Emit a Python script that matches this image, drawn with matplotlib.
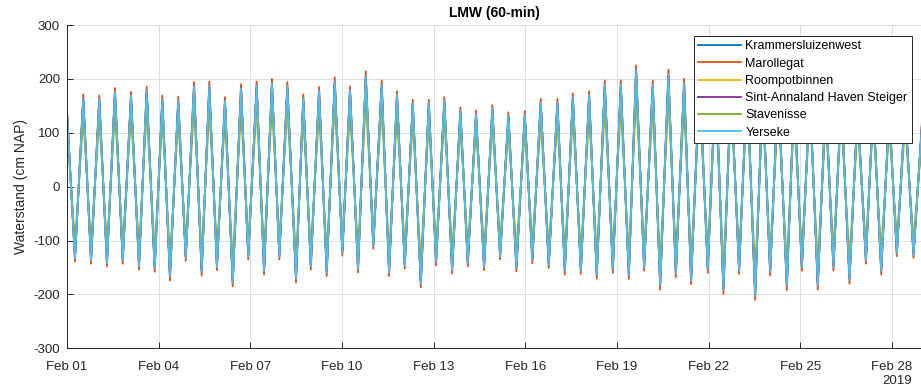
import numpy as np
import pandas as pd
import matplotlib
matplotlib.use("Agg")
import matplotlib.pyplot as plt

plt.rcParams['font.family'] = ['Liberation Sans', 'DejaVu Sans']
plt.rcParams['axes.unicode_minus'] = False

# hoog- en laagwaters, uren na 1 feb 2019 00:00
t_uur = [0, 6.3, 12.8, 18.9, 25.4, 31.4, 37.7, 43.8, 50.3, 56.6,
         62.6, 68.9, 74.9, 80.9, 87.4, 93.3, 99.8, 105.8, 111.8, 117.8,
         124.1, 130.2, 136.7, 142.4, 149.0, 154.8, 161.0, 166.8, 173.1, 179.9,
         185.6, 191.5, 198.0, 204.0, 210.3, 216.3, 222.3, 228.6, 234.7, 240.6,
         247.2, 253.0, 259.2, 265.3, 271.6, 277.9, 284.2, 289.9, 296.4, 302.5,
         309.0, 314.8, 321.3, 327.6, 334.1, 340.2, 346.7, 353.0, 359.6, 365.5,
         372.1, 378.4, 385.2, 391.0, 397.3, 403.6, 410.1, 416.1, 422.4, 428.7,
         435.0, 441.3, 447.0, 453.3, 460.1, 465.9, 472.4, 478.2, 484.7, 490.2,
         496.9, 503.3, 509.5, 515.6, 521.6, 527.9, 534.2, 540.5, 546.4, 552.3,
         558.6, 565.4, 571.1, 577.2, 583.5, 589.7, 595.9, 602.0, 608.1, 614.6,
         621.0, 627.5, 633.2, 639.5, 645.8, 651.8, 658.3, 664.9, 672.0]

krammersluizenwest = [136,-131,161,-134,159,-139,172,-134,165,-145,
                      175,-149,159,-164,157,-130,182,-155,183,-146,
                      156,-174,179,-127,183,-153,188,-127,182,-167,
                      161,-145,174,-156,191,-120,175,-149,201,-108,
                      185,-156,166,-143,151,-176,151,-137,156,-151,
                      138,-139,133,-146,142,-127,130,-148,132,-133,
                      153,-142,153,-153,163,-152,166,-161,185,-150,
                      185,-161,212,-147,185,-180,204,-158,188,-170,
                      193,-150,199,-187,183,-152,193,-197,174,-155,
                      180,-180,165,-147,169,-180,155,-147,160,-169,
                      143,-134,150,-153,136,-121,141,-124,132]

marollegat = [145,-139,171,-143,169,-148,183,-143,176,-154,
              186,-158,169,-174,167,-138,194,-165,195,-155,
              166,-185,190,-135,195,-163,200,-135,194,-178,
              171,-154,185,-166,203,-128,186,-159,214,-115,
              197,-166,177,-152,161,-187,161,-146,166,-161,
              147,-148,141,-155,151,-135,138,-157,140,-142,
              163,-151,163,-163,173,-162,177,-171,197,-160,
              197,-171,225,-156,197,-191,217,-168,200,-181,
              205,-160,212,-199,195,-162,205,-210,185,-165,
              192,-192,175,-156,180,-191,165,-156,170,-180,
              152,-143,160,-163,145,-129,150,-132,140]

roompotbinnen = [104,-100,123,-103,122,-107,132,-103,127,-111,
                 134,-114,122,-125,120,-99,140,-119,140,-112,
                 120,-133,137,-97,140,-117,144,-97,140,-128,
                 123,-111,133,-120,146,-92,134,-114,154,-83,
                 142,-120,127,-109,116,-135,116,-105,120,-116,
                 106,-107,102,-112,109,-97,99,-113,101,-102,
                 117,-109,117,-117,125,-117,127,-123,142,-115,
                 142,-123,162,-112,142,-138,156,-121,144,-130,
                 148,-115,153,-143,140,-117,148,-151,133,-119,
                 138,-138,126,-112,130,-138,119,-112,122,-130,
                 109,-103,115,-117,104,-93,108,-95,101]

sint_annaland = [137,-131,162,-135,160,-140,174,-135,167,-146,
                 177,-150,160,-165,158,-130,184,-156,185,-147,
                 157,-176,180,-128,185,-154,190,-128,184,-169,
                 162,-146,176,-157,193,-121,177,-151,203,-108,
                 187,-157,168,-144,153,-178,153,-138,157,-153,
                 139,-140,133,-147,143,-128,130,-149,132,-134,
                 154,-143,154,-154,164,-154,168,-162,187,-152,
                 187,-162,214,-148,187,-181,206,-159,190,-172,
                 195,-152,202,-189,185,-154,195,-200,176,-156,
                 182,-182,166,-148,171,-181,156,-148,161,-171,
                 144,-135,152,-154,137,-122,142,-125,132]

stavenisse = [125,-120,147,-123,145,-127,157,-123,151,-132,
              160,-136,145,-150,144,-119,167,-142,168,-133,
              143,-159,163,-116,168,-140,172,-116,167,-153,
              147,-132,159,-143,175,-110,160,-137,184,-99,
              169,-143,152,-131,138,-161,138,-126,143,-138,
              126,-127,121,-133,130,-116,119,-135,120,-122,
              140,-130,140,-140,149,-139,152,-147,169,-138,
              169,-147,194,-134,169,-164,187,-144,172,-156,
              176,-138,182,-171,168,-139,176,-181,159,-142,
              165,-165,151,-134,155,-164,142,-134,146,-155,
              131,-123,138,-140,125,-111,129,-114,120]

yerseke = [139,-133,164,-137,162,-142,176,-137,169,-148,
           179,-152,162,-167,160,-132,186,-158,187,-149,
           159,-178,182,-130,187,-156,192,-130,186,-171,
           164,-148,178,-159,195,-123,179,-153,205,-110,
           189,-159,170,-146,155,-180,155,-140,159,-155,
           141,-142,135,-149,145,-130,132,-151,134,-136,
           156,-145,156,-156,166,-156,170,-164,189,-154,
           189,-164,216,-150,189,-183,208,-161,192,-174,
           197,-154,204,-191,187,-156,197,-202,178,-158,
           184,-184,168,-150,173,-183,158,-150,163,-173,
           146,-137,154,-156,139,-124,144,-127,134]

stations = ["Krammersluizenwest", "Marollegat", "Roompotbinnen",
            "Sint-Annaland Haven Steiger", "Stavenisse", "Yerseke"]
reeksen = [krammersluizenwest, marollegat, roompotbinnen,
           sint_annaland, stavenisse, yerseke]
kleuren = ["#0072BD", "#D95319", "#EDB120", "#7E2F8E", "#77AC30", "#4DBEEE"]

tijd = pd.Timestamp("2019-02-01") + pd.to_timedelta(t_uur, unit="h")
xticks = pd.date_range("2019-02-01", "2019-02-28", freq="3D")

fig = plt.figure(figsize=(9.21, 3.87), dpi=100)
ax = fig.add_axes([0.0727, 0.1, 0.9290, 0.8354])

for naam, reeks, kleur in zip(stations, reeksen, kleuren):
    ax.plot(tijd, reeks, color=kleur, lw=1.3, label=naam)

ax.set_xlim(pd.Timestamp("2019-02-01"), pd.Timestamp("2019-03-01"))
ax.set_ylim(-300, 300)
ax.set_yticks(np.arange(-300, 301, 100))
ax.set_xticks(xticks)
ax.set_xticklabels([d.strftime("%b %d") for d in xticks])

ax.grid(True, color="#dedede", lw=0.7)
ax.set_axisbelow(True)
for kant in ["top", "right"]:
    ax.spines[kant].set_visible(False)
for kant in ["left", "bottom"]:
    ax.spines[kant].set_color("#262626")
    ax.spines[kant].set_linewidth(0.7)
ax.tick_params(direction="in", length=4, width=0.7, colors="#262626",
               labelsize=9.5, labelcolor="#262626")
ax.tick_params(axis="x", pad=9)
ax.tick_params(axis="y", pad=5)

ax.set_ylabel("Waterstand (cm NAP)", fontsize=10, color="#262626", labelpad=4)
ax.set_title("LMW (60-min)", fontsize=10, fontweight="bold", color="#000000", pad=6)
fig.text(912 / 921, 0.015, "2019", ha="right", va="center", fontsize=9.5, color="#262626")

leg = ax.legend(loc="upper right", bbox_to_anchor=(911.7 / 921, 1 - 36 / 387),
                bbox_transform=fig.transFigure, borderaxespad=0, fontsize=9,
                fancybox=False, framealpha=1, edgecolor="#262626",
                handlelength=3.4, handletextpad=0.35, labelspacing=0.42,
                borderpad=0.35)
leg.get_frame().set_linewidth(0.7)

fig.savefig("out.png", dpi=100)
